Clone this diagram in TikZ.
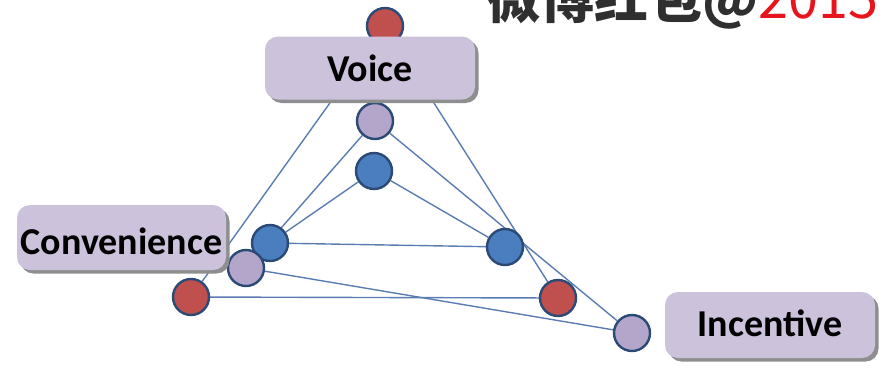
\documentclass[tikz,border=0pt]{standalone}
\usepackage{fontspec}
\setsansfont{Carlito}
\newfontfamily\cjkfont{Noto Sans CJK SC}
\usetikzlibrary{shadows,backgrounds}

\definecolor{boxfill}{HTML}{CCC2DB}
\definecolor{boxshade}{HTML}{8E8E8E}
\definecolor{ballred}{HTML}{C0504D}
\definecolor{ballblue}{HTML}{4A7EBF}
\definecolor{ballpurple}{HTML}{B4A5CA}
\definecolor{ballline}{HTML}{2B4A75}
\definecolor{linkblue}{HTML}{5A7CB3}
\definecolor{titlegray}{HTML}{2F2F2F}
\definecolor{titlered}{HTML}{E8141B}

\begin{document}
\begin{tikzpicture}[
  x=1pt, y=-1pt,
  ball/.style={circle, draw=ballline, line width=2.4pt, minimum size=36pt, inner sep=0pt},
  redball/.style={ball, fill=ballred},
  blueball/.style={ball, fill=ballblue},
  purpleball/.style={ball, fill=ballpurple},
  tag/.style={fill=boxfill, rounded corners=13pt, minimum width=210pt,
    minimum height=63pt, inner sep=0pt, text height=27pt, text depth=0pt,
    font=\sffamily\bfseries\fontsize{38}{40}\selectfont,
    drop shadow={shadow xshift=3.5pt, shadow yshift=-3.5pt, fill=boxshade, opacity=1}},
  link/.style={draw=linkblue, line width=1.4pt}
]
  \useasboundingbox (0,0) rectangle (885,368);

  % title, cut off by the page edge
  \node[anchor=base west, inner sep=0pt, text=titlegray,
    font=\cjkfont\bfseries\fontsize{54}{58}\selectfont] (title) at (486,18)
    {微博红包@\textcolor{titlered}{\mdseries 2015}};

  % inner triangle
  \node[blueball] (btop) at (374,171) {};
  \node[blueball] (bleft) at (270,243) {};
  \node[blueball] (bright) at (505,247) {};

  % middle triangle
  \node[purpleball] (ptop) at (375,121) {};
  \node[purpleball] (pleft) at (246,268) {};
  \node[purpleball] (pright) at (632,333) {};

  % outer triangle
  \node[redball] (rtop) at (385,26) {};
  \node[redball] (rleft) at (191,297) {};
  \node[redball] (rright) at (558,298) {};

  \begin{scope}[on background layer]
    \draw[link] (btop) -- (bleft) -- (bright) -- (btop);
    \draw[link] (ptop) -- (pleft) -- (pright) -- (ptop);
    \draw[link] (rtop) -- (rleft) -- (rright) -- (rtop);
  \end{scope}

  \node[tag] (voice) at (370,68) {Voice};
  \node[tag, minimum width=209pt, minimum height=65pt, text height=33pt] (convenience) at (121.5,237.5) {Convenience};
  \node[tag, minimum height=66pt, text height=22pt] (incentive) at (770,325) {Incentive};
\end{tikzpicture}
\end{document}
